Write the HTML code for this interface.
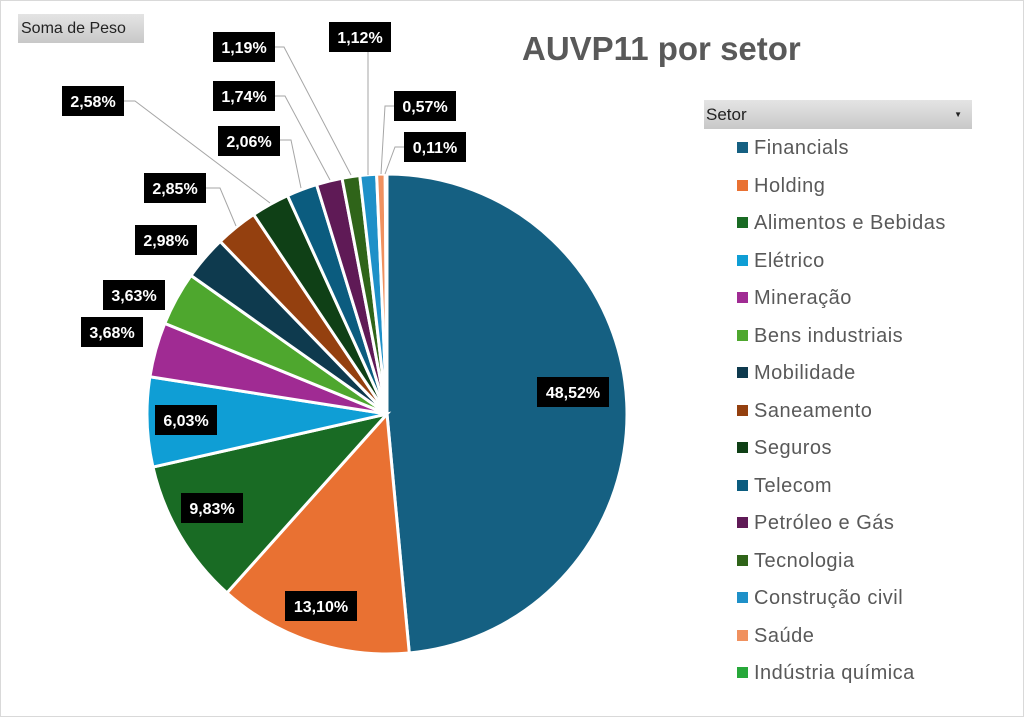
<!DOCTYPE html>
<html><head><meta charset="utf-8"><style>
html,body{margin:0;padding:0;background:#fff;}
body{width:1024px;height:717px;overflow:hidden;position:relative;font-family:"Liberation Sans",sans-serif;}
.frame{position:absolute;left:0;top:0;width:1022px;height:715px;border:1px solid #d9d9d9;}
.btn{position:absolute;background:linear-gradient(#e4e4e4,#c8c8c8);color:#222;font-size:16px;}
.lg{position:absolute;left:737px;font-size:20px;color:#595959;letter-spacing:0.5px;}
.lg span{display:inline-block;width:11px;height:11px;margin-right:6px;vertical-align:1px;}
</style></head><body>
<div class="frame"></div>
<div class="btn" style="left:18px;top:14px;width:123px;height:29px;line-height:29px;padding-left:3px;">Soma de Peso</div>
<div style="position:absolute;left:522px;top:30px;font-size:33px;font-weight:bold;color:#595959;">AUVP11 por setor</div>
<div class="btn" style="left:704px;top:100px;width:266px;height:29px;line-height:29px;padding-left:2px;font-size:17px;">Setor<span style="position:absolute;right:10px;font-size:8px;">▼</span></div>
<div id="lg"></div>
<svg id="s" width="1024" height="717" style="position:absolute;left:0;top:0"></svg>
<script>
var v=[48.52,13.10,9.83,6.03,3.68,3.63,2.98,2.85,2.58,2.06,1.74,1.19,1.12,0.57,0.11];
var c=["#156082","#E97132","#196B24","#0F9ED5","#A02B93","#4EA72E","#0E3A4E","#94400F","#0F4016","#0B5C7F","#5F1A56","#2F6419","#1E90C8","#F0915F","#27A83A"];
var n=["Financials","Holding","Alimentos e Bebidas","Elétrico","Mineração","Bens industriais","Mobilidade","Saneamento","Seguros","Telecom","Petróleo e Gás","Tecnologia","Construção civil","Saúde","Indústria química"];
var cx=387,cy=414,r=240,a=0,h="";
for(var i=0;i<v.length;i++){var b=a+v[i]/100*2*Math.PI;
var x1=cx+r*Math.sin(a),y1=cy-r*Math.cos(a),x2=cx+r*Math.sin(b),y2=cy-r*Math.cos(b);
h+='<path d="M'+cx+' '+cy+'L'+x1+' '+y1+'A'+r+' '+r+' 0 '+((b-a)>Math.PI?1:0)+' 1 '+x2+' '+y2+'Z" fill="'+c[i]+'" stroke="#fff" stroke-width="3"/>';a=b;}
var L=[[124,101,135,101,270,203],[280,140,291,140,301,188],[275,96,285,96,330,180],[275,47,284,47,351,175],[368,52,368,52,368,175],[395,106,385,106,381,174],[405,147,395,147,385,174],[204,188,220,188,236,226]];
L.forEach(function(l){h+='<polyline points="'+l.join(' ')+'" fill="none" stroke="#a6a6a6" stroke-width="1"/>';});
var B=[["48,52%",573,392],["13,10%",321,606],["9,83%",212,508],["6,03%",186,420],["3,68%",112,332],["3,63%",134,295],["2,98%",166,240],["2,85%",175,188],["2,58%",93,101],["2,06%",249,141],["1,74%",244,96],["1,19%",244,47],["1,12%",360,37],["0,57%",425,106],["0,11%",435,147]];
B.forEach(function(q){var w=q[0].length>5?72:62;h+='<rect x="'+(q[1]-w/2)+'" y="'+(q[2]-15)+'" width="'+w+'" height="30" fill="#000"/><text x="'+q[1]+'" y="'+(q[2]+6)+'" text-anchor="middle" fill="#fff" font-family="Liberation Sans,sans-serif" font-weight="bold" font-size="16">'+q[0]+'</text>';});
document.getElementById('s').innerHTML=h;
var g="";for(var i=0;i<n.length;i++){g+='<div class="lg" style="top:'+(137+i*37.5)+'px"><span style="background:'+c[i]+'"></span>'+n[i]+'</div>';}
document.getElementById('lg').innerHTML=g;
</script>
</body></html>
